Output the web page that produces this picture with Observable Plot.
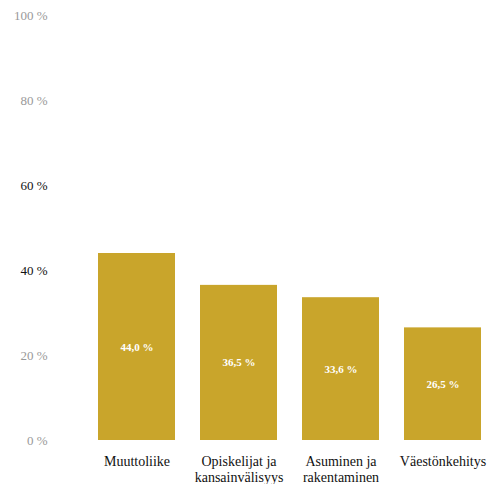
<!DOCTYPE html>
<html><head><meta charset="utf-8">
<script src="https://cdn.jsdelivr.net/npm/d3@7"></script>
<script src="https://cdn.jsdelivr.net/npm/@observablehq/plot@0.6"></script>
<style>body{margin:0;background:#fff} svg text{font-family:"Liberation Serif","DejaVu Serif",serif !important}</style>
</head><body><div id="chart"></div>
<script>
const categories = ["Muuttoliike", "Opiskelijat ja\nkansainvälisyys", "Asuminen ja\nrakentaminen", "Väestönkehitys"];
const values = [44.0, 36.5, 33.6, 26.5];
const yTicks = [0, 20, 40, 60, 80, 100];
const darkTicks = [40, 60];

const data = categories.map((c, i) => ({cat: c, v: values[i]}));
const fmt = v => v.toFixed(1).replace(".", ",") + " %";

const chart = Plot.plot({
  width: 492, height: 484,
  marginLeft: 91, marginRight: 4, marginTop: 15, marginBottom: 44,
  style: {background: "#fff"},
  x: {domain: categories, paddingInner: 0.243, paddingOuter: 0.05, label: null},
  y: {domain: [0, 100], label: null},
  marks: [
    Plot.barY(data, {x: "cat", y: "v", fill: "#C9A52B"}),
    Plot.text(data, {x: "cat", y: d => d.v / 2, text: d => fmt(d.v), fill: "#fff", fontSize: 11, fontWeight: "bold"}),
    Plot.axisY({ticks: yTicks, tickSize: 0, tickPadding: 44, tickFormat: d => d + " %", fontSize: 13,
      fill: d => darkTicks.includes(d) ? "#111" : "#999", label: null}),
    Plot.axisX({tickSize: 0, tickPadding: 14, fontSize: 14, lineHeight: 1.15, fill: "#111", label: null})
  ]
});
document.getElementById("chart").appendChild(chart);
</script>
</body></html>
